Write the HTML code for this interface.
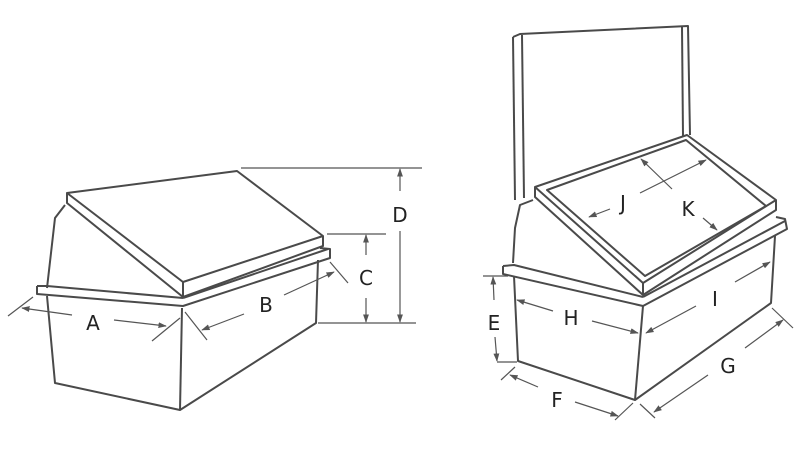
<!DOCTYPE html>
<html><head><meta charset="utf-8"><style>html,body{margin:0;padding:0;background:#fff}svg{display:block}</style></head>
<body>
<svg width="800" height="450" viewBox="0 0 800 450" xmlns="http://www.w3.org/2000/svg">
<defs>
<marker id="ar" viewBox="0 0 10 10" refX="9" refY="5" markerWidth="7" markerHeight="7" orient="auto-start-reverse"><path d="M0,1.5 L10,5 L0,8.5 z" fill="#555"/></marker>
</defs>
<g fill="none" stroke="#4a4a4a" stroke-width="2" stroke-linejoin="round">
<!-- LEFT BOX -->
<path d="M67,193 L237,171 L323,236 L183,282 Z"/>
<path d="M67,193 L67,203 L183,297 L183,282"/>
<path d="M183,297 L323,246 L323,236"/>
<path d="M65,205 L55,218 L47,288"/>
<path d="M37,286 L37,294 L183,306 L330,258 L330,249 L320,248"/>
<path d="M37,286 L47,286 L183,298"/>
<path d="M183,298 L328,249"/>
<path d="M47,296 L55,383 L180,410 L316,323 L318,260"/>
<path d="M182,308 L180,410"/>
<!-- RIGHT BOX -->
<path d="M513,37 L520,34 L688,26 L690,135"/>
<path d="M513,37 L515,200"/>
<path d="M522,35 L524,198"/>
<path d="M682,27 L683,136"/>
<path d="M535,187 L687,135 L776,200 L643,283 Z"/>
<path d="M547,190 L686,140 L766,206 L645,276 Z"/>
<path d="M535,187 L535,197 L643,295 L643,283"/>
<path d="M643,295 L776,210 L776,200"/>
<path d="M533,200 L520,205 L515,228 L513,263"/>
<path d="M503,266 L503,274 L643,306 L787,229 L785,219 L776,217"/>
<path d="M503,266 L514,265 L643,297"/>
<path d="M643,297 L785,221"/>
<path d="M514,276 L518,361 L635,400 L771,303 L775,236"/>
<path d="M643,306 L635,400"/>
</g>
<g stroke="#555" stroke-width="1.2" fill="none">
<!-- D, C -->
<line x1="241" y1="168" x2="422" y2="168"/>
<line x1="327" y1="234" x2="386" y2="234"/>
<line x1="318" y1="323" x2="416" y2="323"/>
<line x1="400" y1="169" x2="400" y2="191" marker-start="url(#ar)"/>
<line x1="400" y1="231" x2="400" y2="322" marker-end="url(#ar)"/>
<line x1="366" y1="235" x2="366" y2="255" marker-start="url(#ar)"/>
<line x1="366" y1="298" x2="366" y2="322" marker-end="url(#ar)"/>
<!-- A -->
<line x1="8" y1="316" x2="33" y2="297"/>
<line x1="152" y1="341" x2="180" y2="318"/>
<line x1="22" y1="308" x2="72" y2="315" marker-start="url(#ar)"/>
<line x1="114" y1="320" x2="166" y2="326" marker-end="url(#ar)"/>
<!-- B -->
<line x1="185" y1="312" x2="207" y2="340"/>
<line x1="330" y1="262" x2="348" y2="283"/>
<line x1="202" y1="330" x2="244" y2="314" marker-start="url(#ar)"/>
<line x1="284" y1="295" x2="334" y2="272" marker-end="url(#ar)"/>
<!-- E -->
<line x1="483" y1="276" x2="508" y2="276"/>
<line x1="497" y1="362" x2="517" y2="362"/>
<line x1="493" y1="277" x2="494" y2="300" marker-start="url(#ar)"/>
<line x1="495" y1="337" x2="497" y2="361" marker-end="url(#ar)"/>
<!-- F -->
<line x1="501" y1="380" x2="515" y2="367"/>
<line x1="615" y1="420" x2="633" y2="403"/>
<line x1="510" y1="375" x2="538" y2="387" marker-start="url(#ar)"/>
<line x1="575" y1="402" x2="618" y2="416" marker-end="url(#ar)"/>
<!-- G -->
<line x1="640" y1="404" x2="655" y2="418"/>
<line x1="772" y1="308" x2="793" y2="328"/>
<line x1="654" y1="412" x2="708" y2="375" marker-start="url(#ar)"/>
<line x1="745" y1="348" x2="783" y2="320" marker-end="url(#ar)"/>
<!-- H -->
<line x1="517" y1="300" x2="553" y2="311" marker-start="url(#ar)"/>
<line x1="592" y1="321" x2="638" y2="333" marker-end="url(#ar)"/>
<!-- I -->
<line x1="646" y1="333" x2="696" y2="306" marker-start="url(#ar)"/>
<line x1="735" y1="282" x2="770" y2="262" marker-end="url(#ar)"/>
<!-- J -->
<line x1="589" y1="217" x2="610" y2="209" marker-start="url(#ar)"/>
<line x1="640" y1="193" x2="706" y2="160" marker-end="url(#ar)"/>
<!-- K -->
<line x1="641" y1="159" x2="672" y2="189" marker-start="url(#ar)"/>
<line x1="703" y1="218" x2="717" y2="230" marker-end="url(#ar)"/>
</g>
<g font-family="'DejaVu Sans','Liberation Sans',sans-serif" font-size="20" fill="#222" text-anchor="middle">
<text x="93" y="330">A</text>
<text x="266" y="312">B</text>
<text x="366" y="285">C</text>
<text x="400" y="222">D</text>
<text x="494" y="330">E</text>
<text x="557" y="407">F</text>
<text x="728" y="373">G</text>
<text x="571" y="325">H</text>
<text x="715" y="306">I</text>
<text x="623" y="210">J</text>
<text x="688" y="216">K</text>
</g>
</svg>
</body></html>
